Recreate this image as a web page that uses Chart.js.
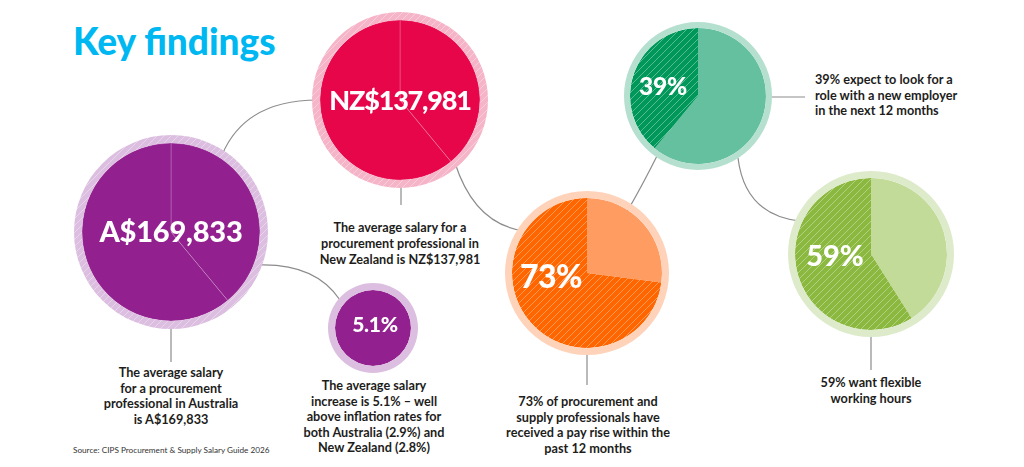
<!DOCTYPE html>
<html>
<head>
<meta charset="utf-8">
<script src="https://cdn.jsdelivr.net/npm/chart.js@4.4.1/dist/chart.umd.min.js"></script>
<style>
  body { margin: 0; background: #fff; }
  #page { position: relative; width: 1024px; height: 467px; overflow: hidden; }
  #art { position: absolute; left: 0; top: 0; }
  .pie { position: absolute; }
  .desc { font-family: Lato, "Liberation Sans", sans-serif; font-weight: 700; font-size: 12.7px; fill: #1d1d1b; }
</style>
</head>
<body>
<div id="page">
  <svg id="art" width="1024" height="467"></svg>
</div>
<script>
"use strict";

const statLabels = ["A$169,833", "NZ$137,981", "5.1%", "73%", "39%", "59%"];
const salarySplit = [39, 61];     // faint split drawn inside the salary circles
const increaseSplit = [100];
const payRise = [27, 73];         // rest, received a pay rise
const newEmployer = [61, 39];     // rest, looking for a new employer
const flexibleHours = [41, 59];   // rest, want flexible hours
const pieValues = [salarySplit, salarySplit, increaseSplit, payRise, newEmployer, flexibleHours];

const titleText = "Key findings";
const sourceText = "Source: CIPS Procurement & Supply Salary Guide 2026";
const descriptions = [
	["The average salary", "for a procurement", "professional in Australia", "is A$169,833"],
	["The average salary for a", "procurement professional in", "New Zealand is NZ$137,981"],
	["The average salary", "increase is 5.1% \u2013 well", "above inflation rates for", "both Australia (2.9%) and", "New Zealand (2.8%)"],
	["73% of procurement and", "supply professionals have", "received a pay rise within the", "past 12 months"],
	["39% expect to look for a", "role with a new employer", "in the next 12 months"],
	["59% want flexible", "working hours"]
];

// layout / styling
const circles = [
	{ x: 171, y: 232, r: 97, ring: 8, main: "#93208f", light: "#93208f", ringColor: "#dcbfe0", ringHatch: true, split: true, hatch: -1, lx: 0, ly: 0, size: 29, ls: -0.2 },
	{ x: 400, y: 100, r: 88, ring: 8, main: "#e8064b", light: "#e8064b", ringColor: "#f6b4c8", ringHatch: true, split: true, hatch: -1, lx: 0, ly: 0, size: 27, ls: -1.2 },
	{ x: 373, y: 328, r: 45, ring: 7, main: "#93208f", light: "#93208f", ringColor: "#dcbfe0", ringHatch: false, split: false, hatch: -1, lx: 2, ly: -4, size: 21, ls: -0.3 },
	{ x: 587, y: 273, r: 82, ring: 7, main: "#ff6600", light: "#ff9c62", ringColor: "#ffd3ba", ringHatch: false, split: false, hatch: 1, lx: -36, ly: 3, size: 32, ls: -0.5 },
	{ x: 698, y: 96, r: 74, ring: 6, main: "#00985a", light: "#65c0a0", ringColor: "#b5e0cf", ringHatch: false, split: false, hatch: 1, lx: -35, ly: -10, size: 24.5, ls: -0.3 },
	{ x: 871, y: 254, r: 83, ring: 7, main: "#8bb83f", light: "#c2db99", ringColor: "#ddebcb", ringHatch: false, split: false, hatch: 1, lx: -36, ly: 2, size: 29, ls: 0 }
];

const descLayout = [
	{ x: 171, y: 377, lh: 15.5, anchor: "middle" },
	{ x: 400, y: 232, lh: 15.8, anchor: "middle" },
	{ x: 374, y: 390, lh: 15.6, anchor: "middle" },
	{ x: 588, y: 406, lh: 15.6, anchor: "middle" },
	{ x: 815, y: 84, lh: 15.5, anchor: "start" },
	{ x: 871, y: 387, lh: 16, anchor: "middle" }
];

const connectors = [
	"M 222 155 Q 245 100 318 100",
	"M 255 265 Q 315 262 340 300",
	"M 455 163 Q 475 225 525 231",
	"M 625 215 Q 640 190 660 150",
	"M 738 158 Q 745 215 800 221",
	"M 765 97 L 805 97",
	"M 171 320 L 171 362",
	"M 401 180 L 401 205",
	"M 587 350 L 587 385",
	"M 871 330 L 871 370"
];

const svgNS = "http://www.w3.org/2000/svg";
const page = document.getElementById("page");
const art = document.getElementById("art");

function svgEl(tag, attrs, text) {
	let el = document.createElementNS(svgNS, tag);
	for (const k in attrs) el.setAttribute(k, attrs[k]);
	if (text !== undefined) el.textContent = text;
	art.appendChild(el);
	return el;
}

// connector lines sit under the circles
for (const d of connectors) {
	svgEl("path", { d: d, fill: "none", stroke: "#8c8c8c", "stroke-width": 1.2 });
}

// diagonal white stripes over a base colour
function hatch(color, alpha) {
	const s = 7;
	let c = document.createElement("canvas");
	c.width = s; c.height = s;
	let g = c.getContext("2d");
	g.fillStyle = color;
	g.fillRect(0, 0, s, s);
	g.strokeStyle = `rgba(255,255,255,${alpha})`;
	g.lineWidth = 1;
	g.beginPath();
	g.moveTo(0, s); g.lineTo(s, 0);
	g.moveTo(-1, 1); g.lineTo(1, -1);
	g.moveTo(s - 1, s + 1); g.lineTo(s + 1, s - 1);
	g.stroke();
	return g.createPattern(c, "repeat");
}

const centerLabel = {
	id: "centerLabel",
	afterDatasetsDraw(chart, args, opts) {
		const ctx = chart.ctx;
		const area = chart.chartArea;
		ctx.save();
		ctx.font = `900 ${opts.size}px Lato, sans-serif`;
		if ("letterSpacing" in ctx) ctx.letterSpacing = opts.ls + "px";
		ctx.fillStyle = "#fff";
		ctx.textAlign = "center";
		ctx.textBaseline = "alphabetic";
		const cx = (area.left + area.right) / 2 + opts.dx;
		const cy = (area.top + area.bottom) / 2 + opts.dy + opts.size * 0.36;
		ctx.fillText(opts.text, cx, cy);
		ctx.restore();
	}
};

circles.forEach(function (c, i) {
	let holder = document.createElement("div");
	holder.className = "pie";
	holder.style.left = (c.x - c.r) + "px";
	holder.style.top = (c.y - c.r) + "px";
	holder.style.width = (2 * c.r) + "px";
	holder.style.height = (2 * c.r) + "px";
	let canvas = document.createElement("canvas");
	canvas.width = 2 * c.r;
	canvas.height = 2 * c.r;
	holder.appendChild(canvas);
	page.appendChild(holder);

	const values = pieValues[i];
	const fills = values.map(function (v, j) {
		if (j === c.hatch) return hatch(c.main, 0.35);
		return values.length > 1 && c.hatch >= 0 ? c.light : c.main;
	});

	new Chart(canvas, {
		type: "pie",
		data: {
			labels: values.map((v, j) => "slice " + (j + 1)),
			datasets: [
				{
					data: [1],
					backgroundColor: [c.ringHatch ? hatch(c.ringColor, 0.35) : c.ringColor],
					borderWidth: 0,
					weight: c.ring
				},
				{
					data: values,
					backgroundColor: fills,
					borderWidth: c.split ? 0.8 : 0,
					borderColor: "rgba(255,255,255,0.25)",
					weight: c.r - c.ring
				}
			]
		},
		options: {
			responsive: false,
			animation: false,
			events: [],
			layout: { padding: 0 },
			plugins: {
				legend: { display: false },
				tooltip: { enabled: false },
				centerLabel: { text: statLabels[i], size: c.size, dx: c.lx, dy: c.ly, ls: c.ls }
			}
		},
		plugins: [centerLabel]
	});
});

// title, source, descriptions
svgEl("text", { x: 73, y: 55, fill: "#00b8f1", "font-family": "Lato, sans-serif", "font-weight": 900, "font-size": 37 }, titleText);
svgEl("text", { x: 73, y: 453, fill: "#333", "font-family": "Lato, sans-serif", "font-size": 8.2 }, sourceText);

descriptions.forEach(function (lines, i) {
	const L = descLayout[i];
	lines.forEach(function (line, j) {
		svgEl("text", { x: L.x, y: L.y + j * L.lh, "text-anchor": L.anchor, class: "desc" }, line);
	});
});
</script>
</body>
</html>
